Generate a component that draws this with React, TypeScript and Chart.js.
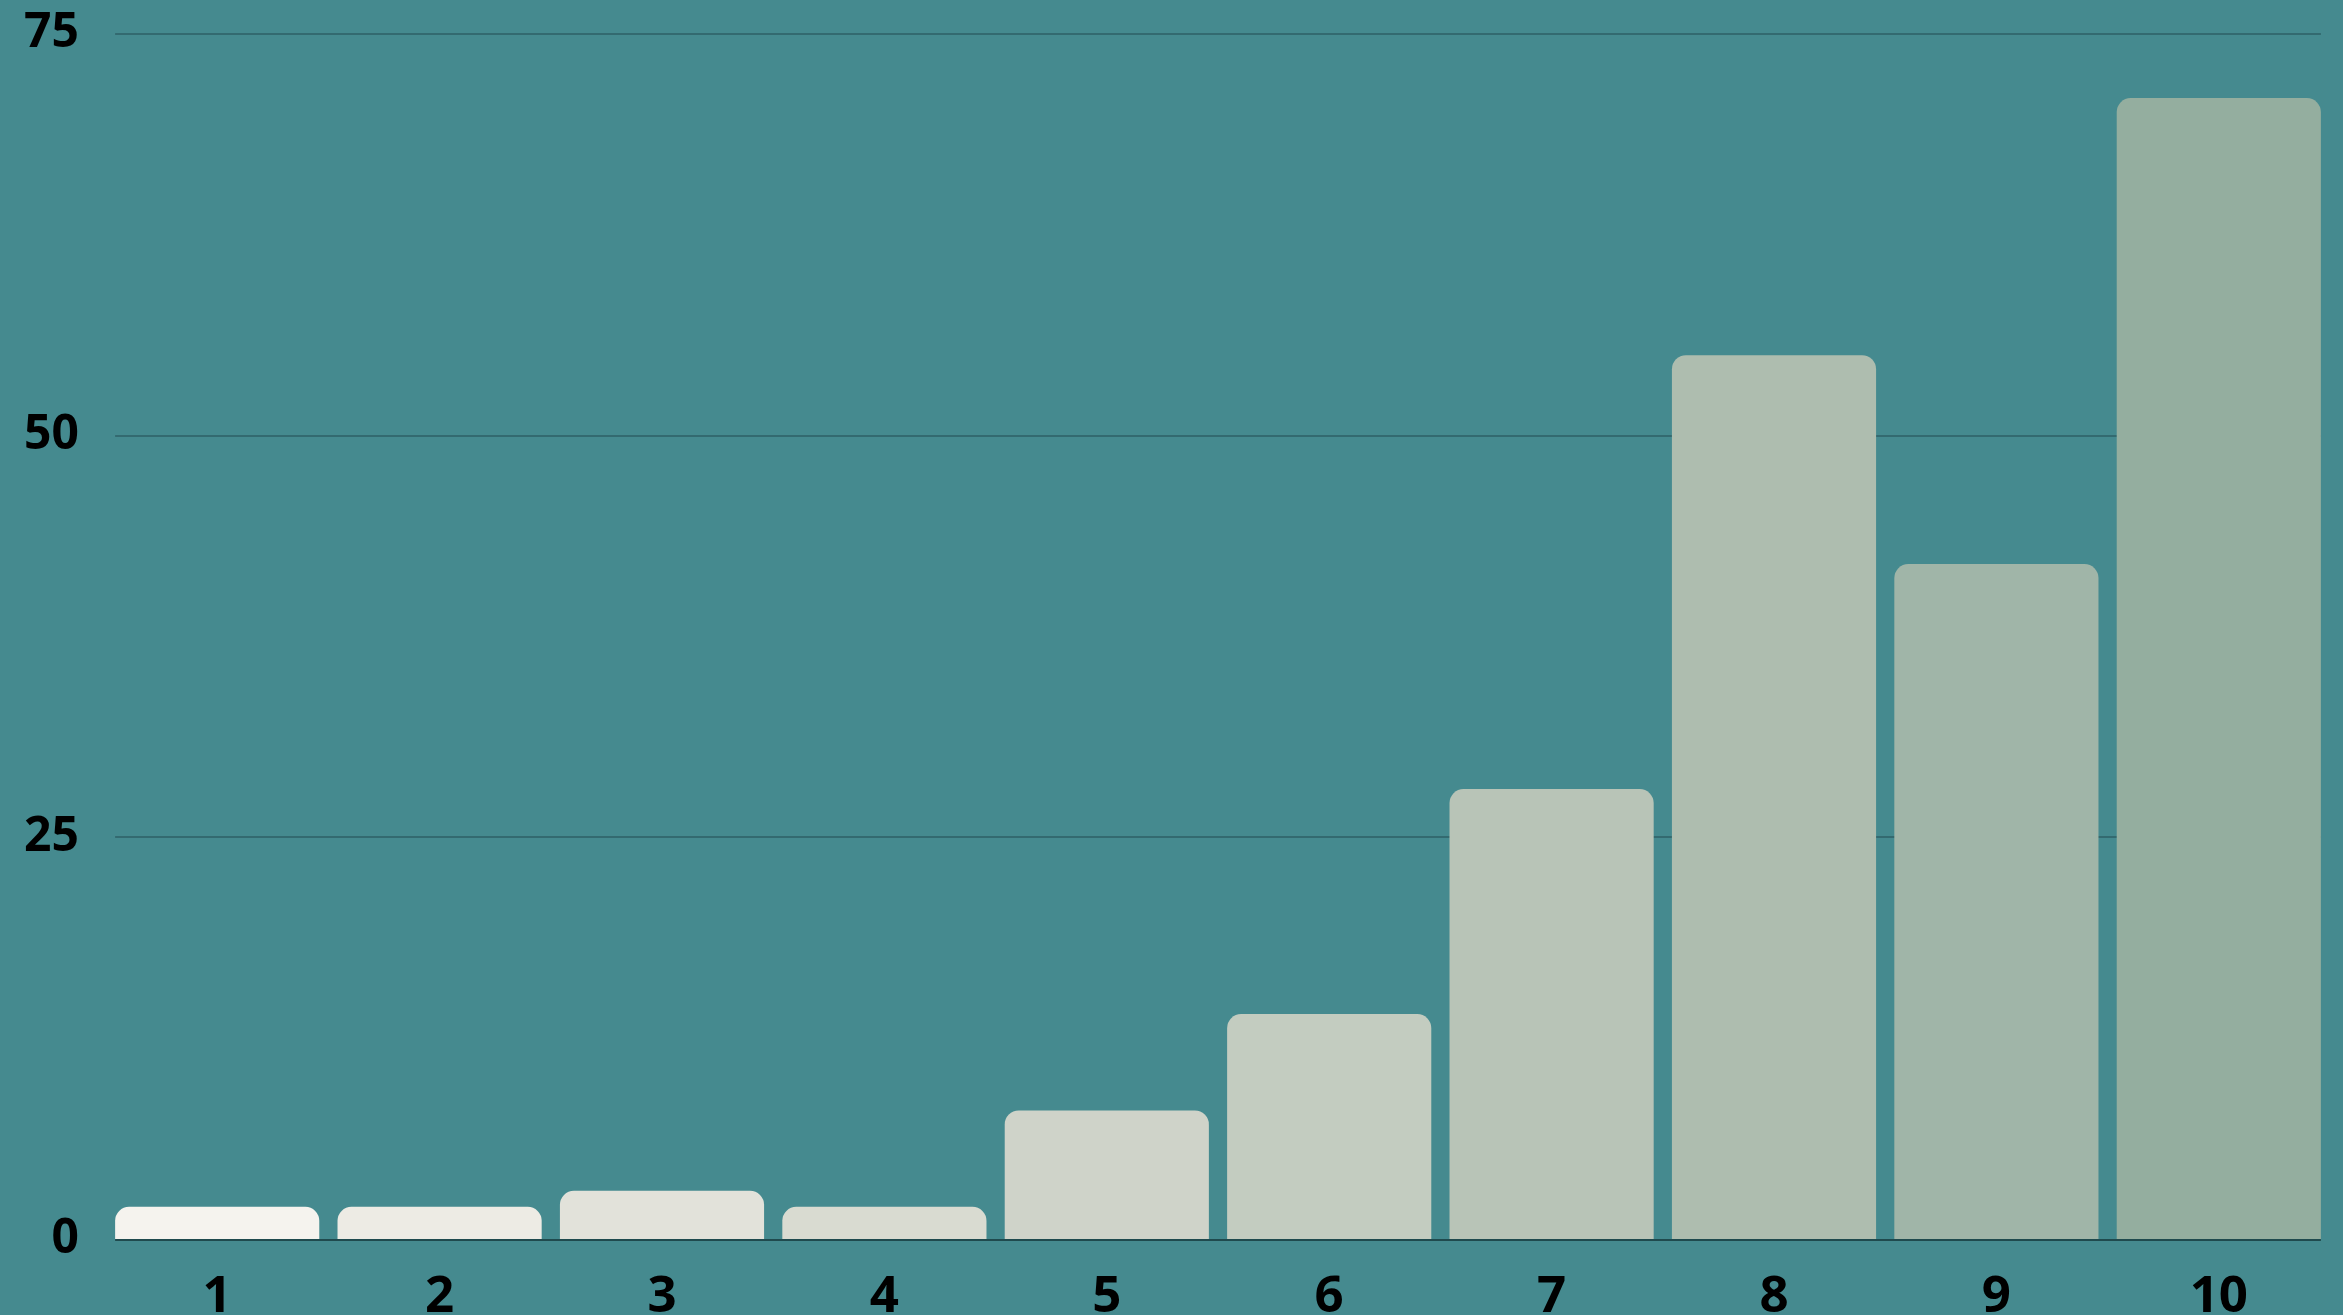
import React, { useEffect, useRef } from "react";
import { Chart, registerables } from "chart.js";

Chart.register(...registerables);

const categories = ["1", "2", "3", "4", "5", "6", "7", "8", "9", "10"];
const values = [2, 2, 3, 2, 8, 14, 28, 55, 42, 71];
const barColors = [
  "#F5F3EE",
  "#EDEBE4",
  "#E2E2DA",
  "#D9DBD1",
  "#CFD3C9",
  "#C3CCC0",
  "#B8C4B7",
  "#AEBDAF",
  "#A0B5A8",
  "#94AE9F",
];
const yTicks = [0, 25, 50, 75];

const W = 2343;
const H = 1360;
const SHIFT = 22;
const BG = "#458A8F";

const gridPlugin = {
  id: "customGrid",
  beforeDatasetsDraw(chart: any) {
    const meta = chart.getDatasetMeta(0);
    const first = meta.data[0];
    const last = meta.data[meta.data.length - 1];
    const left = first.x - first.width / 2;
    const right = last.x + last.width / 2;
    const y = chart.scales.y;
    const ctx = chart.ctx;
    ctx.save();
    ctx.strokeStyle = "#336A70";
    ctx.lineWidth = 2;
    yTicks.forEach((t) => {
      if (t === 0) return;
      const py = Math.round(y.getPixelForValue(t));
      ctx.beginPath();
      ctx.moveTo(left, py);
      ctx.lineTo(right, py);
      ctx.stroke();
    });
    ctx.restore();
  },
  afterDatasetsDraw(chart: any) {
    const meta = chart.getDatasetMeta(0);
    const first = meta.data[0];
    const last = meta.data[meta.data.length - 1];
    const left = first.x - first.width / 2;
    const right = last.x + last.width / 2;
    const y = chart.scales.y;
    const ctx = chart.ctx;
    ctx.save();
    ctx.strokeStyle = "#1F4A4E";
    ctx.lineWidth = 2;
    const py = Math.round(y.getPixelForValue(0)) + 1;
    ctx.beginPath();
    ctx.moveTo(left, py);
    ctx.lineTo(right, py);
    ctx.stroke();
    ctx.restore();
  },
};

const bgPlugin = {
  id: "bg",
  beforeDraw(chart: any) {
    const ctx = chart.ctx;
    ctx.save();
    ctx.fillStyle = BG;
    ctx.fillRect(0, 0, chart.width, chart.height);
    ctx.restore();
  },
};

export default function App() {
  const ref = useRef<HTMLCanvasElement | null>(null);

  useEffect(() => {
    document.body.style.margin = "0";
    document.body.style.overflow = "hidden";
    document.documentElement.style.overflow = "hidden";
    document.body.style.background = BG;
    if (!ref.current) return;
    const chart = new Chart(ref.current, {
      type: "bar",
      data: {
        labels: categories,
        datasets: [
          {
            data: values,
            backgroundColor: barColors,
            borderWidth: 0,
            borderRadius: { topLeft: 14, topRight: 14, bottomLeft: 0, bottomRight: 0 },
            borderSkipped: "start",
            barPercentage: 0.918,
            categoryPercentage: 1,
          },
        ],
      },
      options: {
        responsive: false,
        animation: false,
        devicePixelRatio: 1,
        layout: { padding: { top: 8, right: 13, left: 0, bottom: 0 } },
        plugins: {
          legend: { display: false },
          tooltip: { enabled: false },
          title: { display: false },
        },
        scales: {
          x: {
            grid: { display: false, drawTicks: false },
            border: { display: false },
            ticks: {
              color: "#000000",
              padding: 28,
              font: { family: "'Open Sans'", weight: "bold", size: 51 },
            },
            afterFit: (scale: any) => {
              scale.height = H - (1239 + SHIFT);
            },
          },
          y: {
            min: 0,
            max: 75,
            afterBuildTicks: (scale: any) => {
              scale.ticks = yTicks.map((v) => ({ value: v }));
            },
            grid: { display: false, drawTicks: false },
            border: { display: false },
            ticks: {
              color: "#000000",
              padding: 27,
              font: { family: "'Open Sans'", weight: "bold", size: 48 },
            },
            afterFit: (scale: any) => {
              scale.width = 106;
            },
          },
        },
      },
      plugins: [bgPlugin, gridPlugin],
    });
    return () => chart.destroy();
  }, []);

  return (
    <div style={{ width: W, height: 1315, overflow: "hidden", background: BG }}>
      <canvas
        ref={ref}
        width={W}
        height={H}
        style={{ display: "block", width: W, height: H, marginTop: -SHIFT }}
      />
    </div>
  );
}
